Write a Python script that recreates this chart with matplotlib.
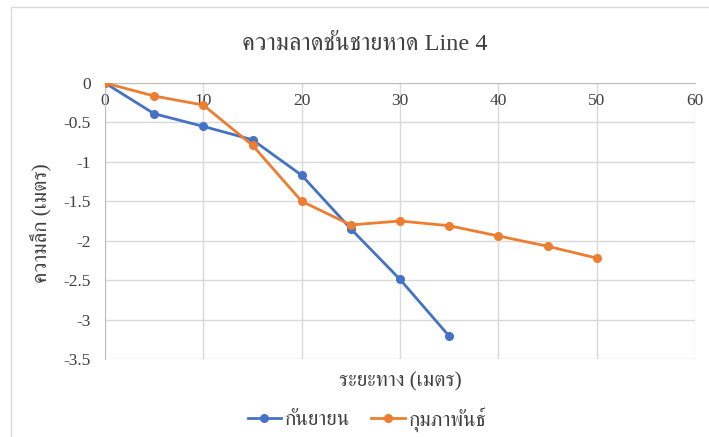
import matplotlib
matplotlib.use('Agg')
import matplotlib.pyplot as plt
from matplotlib.patches import Rectangle

plt.rcParams['font.family'] = ['Liberation Serif', 'FreeSerif']

# ระยะทาง (m) และความลึก (m) ของแต่ละเดือน
dist_sep = [0, 5, 10, 15, 20, 25, 30, 35]
depth_sep = [0, -0.39, -0.55, -0.72, -1.17, -1.85, -2.49, -3.21]

dist_feb = [0, 5, 10, 15, 20, 25, 30, 35, 40, 45, 50]
depth_feb = [0, -0.165, -0.28, -0.79, -1.50, -1.80, -1.75, -1.81, -1.94, -2.07, -2.22]

x_ticks = [0, 10, 20, 30, 40, 50, 60]
y_ticks = [0, -0.5, -1, -1.5, -2, -2.5, -3, -3.5]

txt = '#404040'
grid_c = '#d9d9d9'
axis_c = '#bfbfbf'

fig = plt.figure(figsize=(7.09, 4.37), dpi=100)
ax = fig.add_axes([105 / 709, 1 - 359 / 437, 590 / 709, 276 / 437])

ax.plot(dist_sep, depth_sep, color='#4472C4', lw=2.0, marker='o', ms=5.5,
        label='กันยายน', zorder=3)
ax.plot(dist_feb, depth_feb, color='#ED7D31', lw=2.0, marker='o', ms=5.5,
        label='กุมภาพันธ์', zorder=4)

ax.set_xlim(0, 60)
ax.set_ylim(-3.5, 0)
ax.set_xticks(x_ticks)
ax.set_yticks(y_ticks)
ax.set_xticklabels([str(v) for v in x_ticks])
ax.set_yticklabels(['0' if v == 0 else f'{v:g}' for v in y_ticks])

# แกนนอนตัดที่ความลึก 0
ax.spines['bottom'].set_position(('data', 0))
ax.spines['bottom'].set_color(axis_c)
ax.spines['left'].set_color(axis_c)
ax.spines['top'].set_visible(False)
ax.spines['right'].set_visible(False)
ax.grid(True, color=grid_c, lw=1.0)
ax.set_axisbelow(True)
ax.tick_params(axis='both', length=0, labelsize=12.5, colors=txt)
ax.tick_params(axis='x', pad=7)
ax.tick_params(axis='y', pad=10)

fig.text(365 / 709, 1 - 45 / 437, 'ความลาดชันชายหาด Line 4', ha='center', va='center',
         fontsize=17.5, color=txt)
fig.text(400 / 709, 1 - 382 / 437, 'ระยะทาง (เมตร)', ha='center', va='center',
         fontsize=15, color=txt)
fig.text(42 / 709, 1 - 223 / 437, 'ความลึก (เมตร)', ha='center', va='center',
         rotation=90, fontsize=15, color=txt)

leg = fig.legend(loc='center', bbox_to_anchor=(367 / 709, 1 - 419 / 437), ncol=2,
                 frameon=False, fontsize=15, handlelength=1.6, handletextpad=0.2,
                 columnspacing=1.0, labelcolor=txt)

# กรอบพื้นที่แผนภูมิ
fig.add_artist(Rectangle((11 / 709, -0.05), 1.1, 1 - 7 / 437 + 0.05,
                         transform=fig.transFigure, fill=False, ec=grid_c, lw=1.0))

fig.savefig('out.png', dpi=100, facecolor='white')
